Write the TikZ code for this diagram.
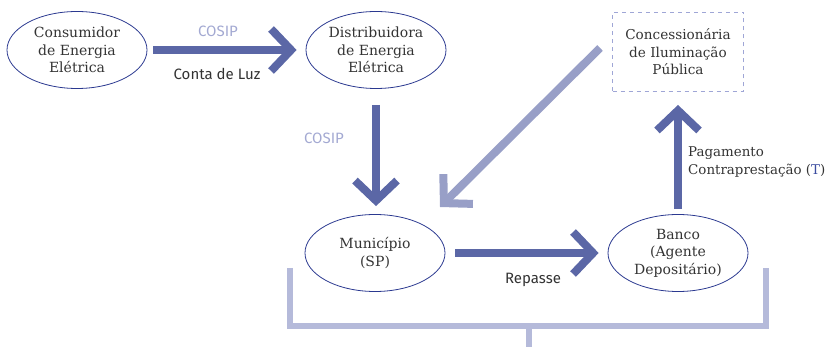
\documentclass[tikz,border=0pt]{standalone}
\usepackage{fontspec}
\setmainfont{DejaVu Serif}
\newfontfamily\labfont{Fira Sans}
\usetikzlibrary{arrows.meta,shapes.geometric}
\definecolor{arrdark}{HTML}{5B67A6}
\definecolor{arrlight}{HTML}{989FC7}
\definecolor{brk}{HTML}{B5BADA}
\definecolor{ellline}{HTML}{2B3990}
\definecolor{dashc}{HTML}{9FA6D6}
\definecolor{txt}{HTML}{333333}
\definecolor{cosipc}{HTML}{A3A9D2}
\definecolor{tblue}{HTML}{3C4DA0}
\tikzset{
  ent/.style={ellipse, draw=ellline, line width=0.8pt, minimum width=140pt, minimum height=77pt, inner sep=0pt, align=center, text=txt, font=\fontsize{14}{17.5}\selectfont},
  concbox/.style={rectangle, draw=dashc, line width=0.9pt, dash pattern=on 4pt off 4pt, minimum width=131pt, minimum height=79pt, inner sep=0pt, align=center, text=txt, font=\fontsize{13.6}{17.5}\selectfont},
  bigarrow/.style={draw=arrdark, line width=8pt, -{Straight Barb[length=20pt,width=42pt,sharp]}},
  lightarrow/.style={draw=arrlight, line width=8pt, -{Straight Barb[length=20pt,width=42pt,sharp]}},
  bracketline/.style={draw=brk, line width=5.5pt},
  lab/.style={text=txt, font=\labfont\fontsize{15}{18}\selectfont, inner sep=0pt},
  cosiplab/.style={text=cosipc, font=\labfont\fontsize{15}{18}\selectfont, inner sep=0pt},
  paglab/.style={text=txt, font=\fontsize{13.4}{18.5}\selectfont, align=left, inner sep=0pt, anchor=west}
}
\begin{document}
\begin{tikzpicture}[x=1pt,y=-1pt]
\useasboundingbox (0,0) rectangle (827,347);
\node[ent] (cons) at (77,50) {Consumidor\\de Energia\\Elétrica};
\node[ent] (dist) at (376,50) {Distribuidora\\de Energia\\Elétrica};
\node[concbox] (conc) at (678,52) {Concessionária\\de Iluminação\\Pública};
\node[ent] (mun) at (375,253) {Município\\(SP)};
\node[ent] (banco) at (678,253) {Banco\\(Agente\\Depositário)};
\draw[bigarrow, shorten <=6pt, shorten >=9pt] (cons.east) -- (dist.west);
\draw[bigarrow, shorten <=16pt, shorten >=8pt] (dist.south) -- (dist.south |- mun.north);
\draw[bigarrow, shorten <=10pt, shorten >=9pt] (mun.east) -- (banco.west);
\draw[bigarrow, shorten <=5pt, shorten >=13pt] (banco.north) -- (conc.south);
\coordinate (dstart) at (600,48);
\coordinate (dend) at (440,207);
\draw[lightarrow] (dstart) -- (dend);
\node[cosiplab] (c1) at (218,31) {COSIP};
\node[lab] (cl) at (217,74) {Conta de Luz};
\node[cosiplab] (c2) at (324,138) {COSIP};
\node[lab] (rp) at (533,280) {Repasse};
\node[paglab] (pg) at (688,162) {Pagamento\\Contraprestação (\textcolor{tblue}{T})};
\draw[bracketline] (290,268) -- (290,326) -- (766,326) -- (766,268);
\draw[bracketline] (529,326) -- (529,347);
\end{tikzpicture}
\end{document}
